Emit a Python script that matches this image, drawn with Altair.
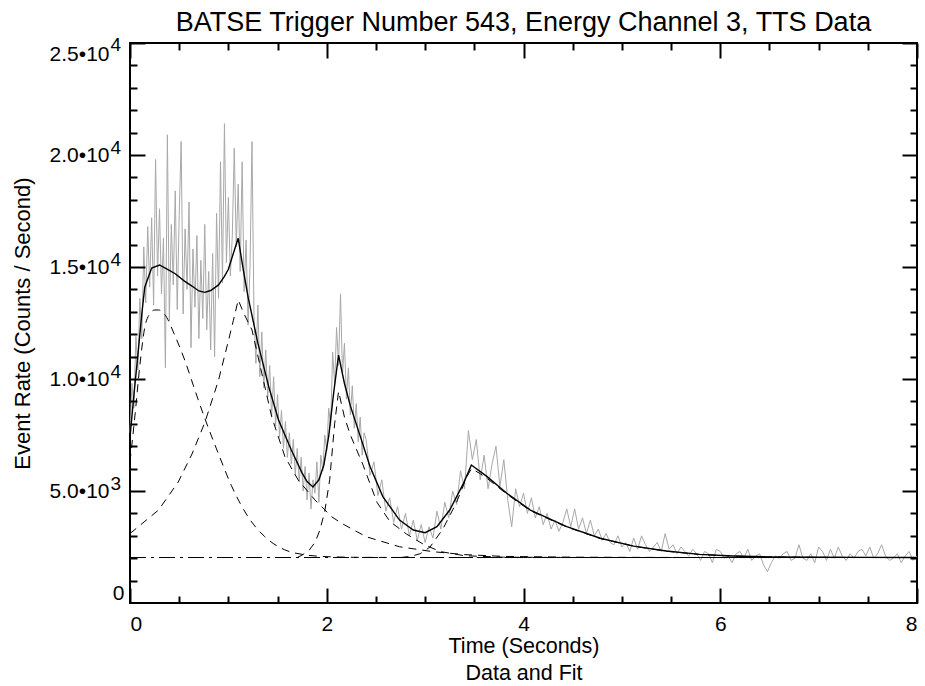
import altair as alt
import pandas as pd

# ---------------- data ----------------
# measured light curve (counts / s); two time resolutions
data_t0_fine, data_dt_fine = 0.0, 0.02
data_v_fine = [
    7600, 9800, 8700, 11900, 10400, 13600, 11800, 15900, 13400, 16800,
    14100, 17200, 13300, 19800, 14600, 17600, 13800, 16300, 10500, 20900,
    12600, 16900, 14200, 18400, 13100, 17300, 20600, 12900, 16700, 14000,
    17900, 11400, 15800, 13200, 16400, 11800, 15300, 12700, 16900, 12200,
    14800, 11300, 15600, 11000, 17400, 13600, 19700, 14300, 21400, 15200,
    18100, 14600, 16400, 20300, 15900, 18700, 14800, 19700, 13900, 16200,
    12400, 15000, 20600, 12900, 10700, 13300, 10100, 12100, 9600, 11300,
    9200, 10600, 8300, 10100, 7900, 9300, 7400, 8600, 6900, 8100,
    6500, 7600, 6200, 7300, 5700, 6900, 5400, 6500, 5000, 6100,
    4600, 5800, 4200, 5500, 4900, 6300, 4500, 6600, 5900, 7500,
    6800, 8700, 7900, 11200, 9800, 12300, 10600, 13800, 10200, 11600,
    9100, 10500, 8400, 9700, 7800, 8900, 7200, 8300, 6600, 7600,
]
data_t0_coarse, data_dt_coarse = 2.40, 0.04
data_v_coarse = [
    7300, 5700, 6300, 4800, 5500, 4100, 4700, 3600, 4300, 3300,
    4000, 3000, 3700, 2800, 3500, 2700, 3400, 2900, 4100, 3300,
    4500, 3800, 5000, 4400, 5900, 5100, 7700, 6400, 7300, 5500,
    6600, 5100, 6200, 7000, 5200, 6400, 4600, 3400, 5100, 4300,
    4900, 4000, 4700, 3800, 4300, 3500, 4000, 3300, 3700, 3200,
    3600, 4200, 3400, 4200, 3300, 3800, 3100, 3700, 3000, 3300,
    2800, 3100, 2700, 2600, 3000, 2500, 2700, 2300, 2900, 2400,
    3000, 2600, 2300, 2500, 2700, 2300, 3100, 2400, 2600, 2200,
    2500, 2300, 2100, 2400, 2200, 1900, 2300, 2200, 1800, 2400,
    2300, 2000, 2100, 1800, 2200, 2300, 2000, 2400, 1900, 2100,
    2200, 1700, 1400, 1800, 2100, 2000, 2200, 2300, 1900, 2000,
    2600, 2000, 1900, 2200, 1800, 2500, 2300, 1900, 2400, 2000,
    2500, 2100, 1900, 2200, 2000, 2300, 2400, 2100, 2500, 2000,
    2200, 2600, 2100, 1900, 2000, 2200, 1800, 2100, 2300, 1900,
    2100,
]

# total fit (solid)
fit_t = [0, 0.04, 0.085, 0.12, 0.15, 0.22, 0.30, 0.40, 0.46, 0.55, 0.63, 0.70, 0.76,
         0.82, 0.90, 0.96, 1.00, 1.05, 1.10, 1.15, 1.20, 1.30, 1.41, 1.51, 1.64, 1.75,
         1.80, 1.86, 1.92, 1.97, 2.02, 2.07, 2.12, 2.18, 2.24, 2.34, 2.44, 2.57, 2.74,
         2.88, 3.00, 3.12, 3.25, 3.39, 3.47, 3.63, 3.83, 4.07, 4.44, 4.78, 5.12, 5.45,
         5.79, 6.13, 6.47, 7.0, 7.5, 8.0]
fit_v = [7400, 9300, 11290, 12900, 14100, 14950, 15090, 14850, 14700, 14380, 14150,
         13930, 13870, 13950, 14200, 14580, 14900, 15600, 16280, 14920, 13670, 11600,
         9660, 8170, 6830, 5800, 5420, 5180, 5500, 6150, 7450, 9370, 11070, 9800, 8800,
         7450, 6090, 4750, 3700, 3260, 3140, 3410, 4150, 5340, 6160, 5640, 4900, 4150,
         3410, 2890, 2540, 2320, 2170, 2100, 2060, 2040, 2035, 2030]

# pulse components (dashed)
c1_t = [0, 0.05, 0.1, 0.15, 0.2, 0.25, 0.29, 0.35, 0.46, 0.56, 0.66, 0.76, 0.90, 1.03,
        1.20, 1.37, 1.57, 1.78, 2.0, 2.3, 2.7, 3.2, 4.0, 5.0, 8.0]
c1_v = [6300, 8350, 10600, 12300, 12900, 13080, 13080, 12900, 11900, 10800, 9500, 8250,
        6650, 5250, 3850, 2960, 2380, 2150, 2070, 2040, 2033, 2031, 2030, 2030, 2030]

c2_t = [0, 0.29, 0.49, 0.63, 0.76, 0.90, 1.00, 1.05, 1.10, 1.16, 1.24, 1.34, 1.44,
        1.575, 1.71, 1.88, 2.05, 2.15, 2.40, 2.74, 3.08, 3.4, 3.8, 4.5, 5.5, 8.0]
c2_v = [3100, 4150, 5400, 6650, 8050, 9950, 11700, 12600, 13530, 12900, 12190, 10250,
        8320, 6530, 5490, 4600, 3850, 3560, 2960, 2510, 2290, 2160, 2080, 2045, 2033, 2030]

c3_t = [1.70, 1.75, 1.82, 1.88, 1.93, 1.98, 2.03, 2.08, 2.12, 2.18, 2.24, 2.37, 2.51,
        2.64, 2.81, 2.98, 3.15, 3.4, 3.8, 4.5, 5.5, 8.0]
c3_v = [2030, 2140, 2350, 2700, 3250, 4100, 5500, 8000, 9450, 8300, 7500, 6150, 4500,
        3650, 3080, 2630, 2300, 2110, 2045, 2032, 2030, 2030]

c4_t = [2.75, 2.85, 2.95, 3.05, 3.18, 3.32, 3.42, 3.47, 3.55, 3.63, 3.83, 4.07, 4.44,
        4.78, 5.12, 5.45, 5.79, 6.13, 6.47, 7.0, 7.5, 8.0]
c4_v = [2030, 2080, 2200, 2500, 3300, 4500, 5600, 6000, 5800, 5560, 4860, 4120, 3390,
        2880, 2535, 2315, 2165, 2095, 2057, 2038, 2033, 2030]

# constant background (dash-dot)
bg_t = [0, 8]
bg_v = [2030, 2030]

# ticks and labels
x_major = [0, 2, 4, 6, 8]
x_minor = [0.5, 1.0, 1.5, 2.5, 3.0, 3.5, 4.5, 5.0, 5.5, 6.5, 7.0, 7.5]
y_major = [5000, 10000, 15000, 20000, 25000]
y_mantissa = ["5.0\u202210", "1.0\u202210", "1.5\u202210", "2.0\u202210", "2.5\u202210"]
y_exponent = ["3", "4", "4", "4", "4"]
y_minor = [v for v in range(1000, 25000, 1000) if v % 5000 != 0]

title_text = "BATSE Trigger Number 543, Energy Channel 3, TTS Data"
x_title = ["Time (Seconds)", "Data and Fit"]
y_title = "Event Rate (Counts / Second)"

# ---------------- chart ----------------
W, H = 787, 560
FONT = "Liberation Sans"

t_fine = [round(data_t0_fine + i * data_dt_fine, 3) for i in range(len(data_v_fine))]
t_coarse = [round(data_t0_coarse + i * data_dt_coarse, 3) for i in range(len(data_v_coarse))]
df_data = pd.DataFrame({"t": t_fine + t_coarse, "v": data_v_fine + data_v_coarse})

xs = alt.Scale(domain=[0, 8], nice=False, zero=False)
ys = alt.Scale(domain=[0, 25000], nice=False, zero=False)


def expr_from(values, labels):
    parts = [f"datum.value == {v} ? '{l}'" for v, l in zip(values, labels)]
    return " : ".join(parts) + " : ''"


def tick_axis(orient, values, size, offset):
    return alt.Axis(orient=orient, values=values, labels=False, domain=False, grid=False,
                    ticks=True, tickSize=size, tickWidth=2, tickColor="black",
                    offset=offset, title="", zindex=1)


ax_x_labels = alt.Axis(orient="bottom", values=x_major, format="d", ticks=False, tickSize=0,
                       domain=False, grid=False, labelPadding=10, labelFontSize=21,
                       title=x_title, titleFontSize=21.5, titleBaseline="top", titleY=32,
                       titleLineHeight=27)
ax_x_major_b = tick_axis("top", x_major, 15, -H)
ax_x_minor_b = tick_axis("top", x_minor, 7, -H)
ax_x_major_t = tick_axis("bottom", x_major, 15, -H)
ax_x_minor_t = tick_axis("bottom", x_minor, 7, -H)

ax_y_mant = alt.Axis(orient="left", values=y_major, labelExpr=expr_from(y_major, y_mantissa),
                     ticks=False, tickSize=0, domain=False, grid=False, labelPadding=21,
                     labelFontSize=21, labelFlush=True, title=y_title, titleFontSize=22,
                     titleX=-101, titleY=H / 2, titleBaseline="alphabetic", titleAngle=-90)
ax_y_exp = alt.Axis(orient="left", values=y_major, labelExpr=expr_from(y_major, y_exponent),
                    ticks=False, tickSize=0, domain=False, grid=False, labelPadding=20,
                    labelAlign="left", labelFontSize=19, labelFlush=True, labelOffset=-8,
                    title="")
ax_y_zero = alt.Axis(orient="left", values=[0], format="d", ticks=False, tickSize=0,
                     domain=False, grid=False, labelPadding=6, labelFontSize=21,
                     labelFlush=True, title="")
ax_y_major_l = tick_axis("right", y_major, 15, -W)
ax_y_minor_l = tick_axis("right", y_minor, 7, -W)
ax_y_major_r = tick_axis("left", y_major, 15, -W)
ax_y_minor_r = tick_axis("left", y_minor, 7, -W)


def line(t, v, xaxis, yaxis, **mark):
    df = pd.DataFrame({"t": t, "v": v})
    return alt.Chart(df).mark_line(**mark).encode(
        x=alt.X("t:Q", scale=xs, axis=xaxis),
        y=alt.Y("v:Q", scale=ys, axis=yaxis),
    )


dash = [8, 6]
layers = [
    line(df_data["t"].tolist(), df_data["v"].tolist(), ax_x_labels, ax_y_mant,
         color="#a8a8a8", strokeWidth=1),
    line(bg_t, bg_v, ax_x_major_b, ax_y_exp, color="black", strokeWidth=1,
         strokeDash=[16, 5, 3, 5]),
    line(c1_t, c1_v, ax_x_minor_b, ax_y_zero, color="black", strokeWidth=1,
         strokeDash=dash, interpolate="monotone"),
    line(c2_t, c2_v, ax_x_major_t, ax_y_major_l, color="black", strokeWidth=1,
         strokeDash=dash),
    line(c3_t, c3_v, ax_x_minor_t, ax_y_minor_l, color="black", strokeWidth=1,
         strokeDash=dash),
    line(c4_t, c4_v, None, ax_y_major_r, color="black", strokeWidth=1, strokeDash=dash),
    line(fit_t, fit_v, None, ax_y_minor_r, color="black", strokeWidth=1.4),
]

chart = alt.layer(*layers).resolve_axis(x="independent", y="independent").properties(
    width=W,
    height=H,
    title=alt.Title(text=title_text, fontSize=27, font=FONT, fontWeight="normal",
                    color="black", anchor="middle", baseline="alphabetic", offset=-23,
                    frame="group"),
    autosize=alt.AutoSizeParams(type="none"),
    padding={"left": 130, "top": 43, "right": 8, "bottom": 83},
    background="white",
).configure_view(stroke="black", strokeWidth=2).configure_axis(
    labelFont=FONT, titleFont=FONT, labelColor="black", titleColor="black",
    titleFontWeight="normal", labelFontWeight="normal",
)

chart.save("out.html", embed_options={"renderer": "svg", "actions": False})
